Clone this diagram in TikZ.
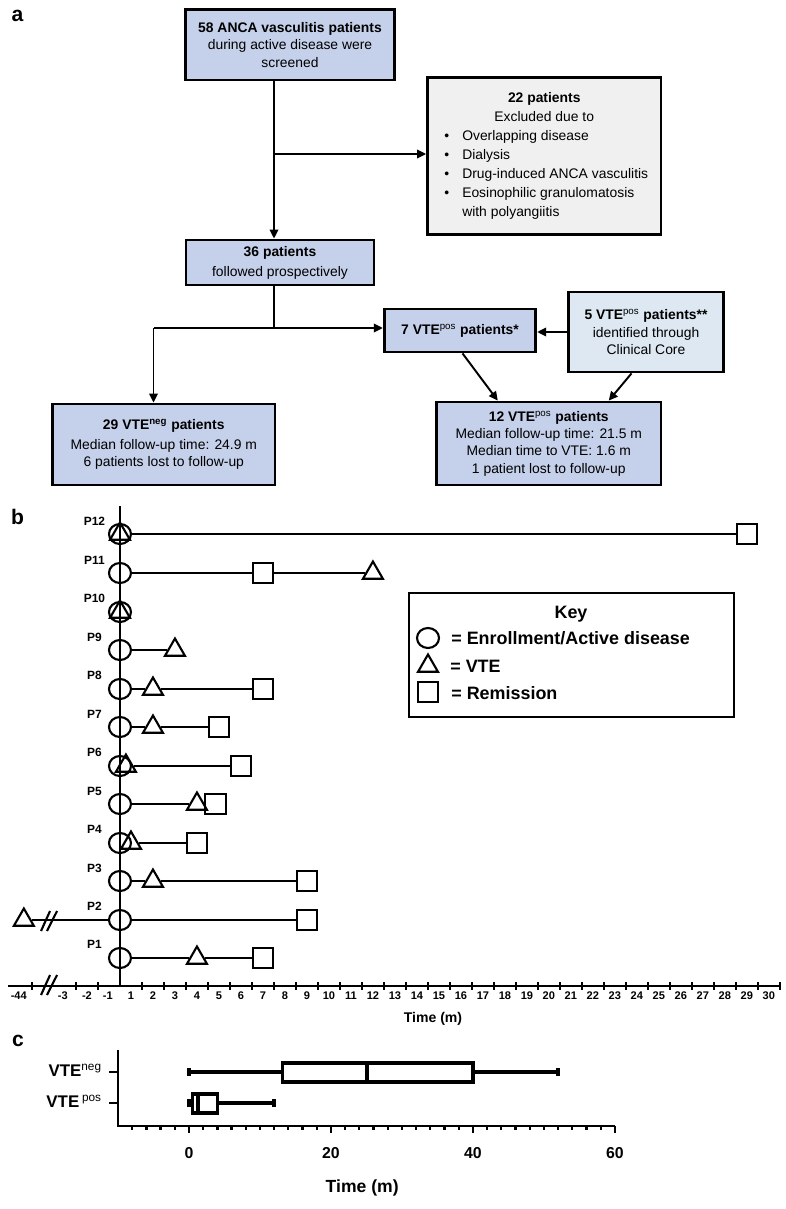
\documentclass[tikz,border=0pt]{standalone}
\usepackage{fontspec}
\setmainfont{Liberation Sans}
\usepackage{tikz}
\usetikzlibrary{arrows.meta,shapes.geometric}
\definecolor{boxblue}{RGB}{197,208,234}
\definecolor{boxgray}{RGB}{240,240,240}
\definecolor{corelight}{RGB}{221,232,242}

\begin{document}
\begin{tikzpicture}[x=0.02cm,y=-0.02cm,
  >={Triangle[length=1.8mm,width=1.7mm]},
  panel/.style={font=\fontsize{12}{14}\selectfont\bfseries},
  flowbox/.style={draw,line width=1.6pt,fill=boxblue,align=center,inner sep=0pt,font=\fontsize{7.9}{9.9}\selectfont},
  flowline/.style={line width=1.1pt},
  enrol/.style={draw,ellipse,line width=1.2pt,minimum width=0.44cm,minimum height=0.4cm,inner sep=0pt},
  vte/.style={draw,regular polygon,regular polygon sides=3,line width=1.2pt,minimum size=0.46cm,inner sep=0pt},
  remis/.style={draw,rectangle,line width=1.2pt,minimum size=0.41cm,inner sep=0pt},
  row/.style={line width=1pt},
  axis/.style={line width=0.9pt},
  rowlab/.style={font=\fontsize{6.8}{8}\selectfont\bfseries,inner sep=0pt},
  ticklab/.style={font=\fontsize{6.3}{7}\selectfont\bfseries,inner sep=0pt},
  keytext/.style={font=\fontsize{10.2}{12}\selectfont\bfseries,inner sep=0pt},
  caxis/.style={line width=1.3pt},
  boxp/.style={line width=2pt},
  clab/.style={font=\fontsize{9.6}{11}\selectfont\bfseries,inner sep=0pt}]
\useasboundingbox (0,0) rectangle (786,1209);

% 流程图
\node[panel] (la) at (17.5,16) {a};
\node[flowbox,minimum width=4.17cm,minimum height=1.41cm] (screen) at (290,44.7) {\textbf{58 ANCA vasculitis patients}\\during active disease were\\screened};
\node[flowbox,fill=boxgray,minimum width=4.67cm,minimum height=3.13cm] (excl) at (544.25,156) {%
\begin{minipage}{4.2cm}
\fontsize{7.9}{10.8}\selectfont
\centering\textbf{22 patients}\\Excluded due to\par
\raggedright
\makebox[0.46cm][l]{\hspace{0.1cm}\textbullet}Overlapping disease\\
\makebox[0.46cm][l]{\hspace{0.1cm}\textbullet}Dialysis\\
\makebox[0.46cm][l]{\hspace{0.1cm}\textbullet}Drug-induced ANCA vasculitis\\
\makebox[0.46cm][l]{\hspace{0.1cm}\textbullet}Eosinophilic granulomatosis\\
\hspace*{0.46cm}with polyangiitis
\end{minipage}};
\node[flowbox,minimum width=3.76cm,minimum height=0.9cm] (follow) at (280,262.5) {\textbf{36 patients}\\[1.5pt]followed prospectively};
\node[flowbox,minimum width=3.03cm,minimum height=0.86cm] (pos7) at (460,330.5) {\textbf{7 VTE\textsuperscript{\mdseries pos} patients*}};
\node[flowbox,fill=corelight,minimum width=3.11cm,minimum height=1.6cm] (core) at (646,332) {\textbf{5 VTE\textsuperscript{\mdseries pos} patients**}\\identified through\\Clinical Core};
\node[flowbox,minimum width=4.49cm,minimum height=1.66cm] (pos12) at (548.75,443.5) {\textbf{12 VTE\textsuperscript{\mdseries pos} patients}\\Median follow-up time: 21.5 m\\Median time to VTE: 1.6 m\\1 patient lost to follow-up};
\node[flowbox,minimum width=4.45cm,minimum height=1.62cm] (neg29) at (163.75,444.5) {\textbf{29 VTE\textsuperscript{neg} patients}\\[1pt]Median follow-up time: 24.9 m\\6 patients lost to follow-up};

% 连接线
\coordinate (split) at (274,154);
\coordinate (fork) at (274,328);
\coordinate (corner) at (153.5,328);
\draw[flowline,->] (split |- screen.south) -- (split |- follow.north);
\draw[flowline,->] (split) -- (split -| excl.west);
\draw[flowline] (fork |- follow.south) -- (fork);
\draw[flowline,->] (corner) -- (corner -| pos7.west);
\draw[flowline,->] (corner) -- (corner |- neg29.north);
\draw[flowline,->] (core.west) -- (core.west -| pos7.east);
\draw[flowline,->] ([xshift=0.05cm]pos7.south) -- ([xshift=-1.02cm]pos12.north);
\draw[flowline,->] ([xshift=-0.29cm]core.south) -- ([xshift=1.2cm]pos12.north);

% 时间轴
\node[panel] (lb) at (17.5,517) {b};
\begin{scope}[xshift=2.4cm,x=0.44cm]
\draw[axis] (0,506) -- (0,986);
\draw[axis] (-5.1,986) -- (30,986);
\foreach \t in {-4,-2,-1,1,2,...,30}
  \draw[axis] (\t,982) -- (\t,990);
\foreach \k in {1,...,30}
  \node[ticklab] (tk\k) at (\k-0.5,996) {\k};
\node[ticklab] (tkm1) at (-0.55,996) {-1};
\node[ticklab] (tkm2) at (-1.5,996) {-2};
\node[ticklab] (tkm3) at (-2.6,996) {-3};
\node[ticklab] (tkm44) at (-4.6,996) {-44};
\draw[axis,line width=1.2pt] (-3.59,995) -- (-3.18,975);
\draw[axis,line width=1.2pt] (-3.32,995) -- (-2.86,975);

% P12
\node[rowlab] (l12) at (-1.16,521) {P12};
\node[enrol] (c12) at (0,534) {};
\node[vte] (t12) at (0,534) {};
\node[remis] (s12) at (28.5,534) {};
\draw[row] (c12) -- (s12);
% P11
\node[rowlab] (l11) at (-1.16,560) {P11};
\node[enrol] (c11) at (0,573) {};
\node[remis] (s11) at (6.5,573) {};
\node[vte] (t11) at (11.5,573) {};
\draw[row] (c11) -- (s11) -- (t11);
% P10
\node[rowlab] (l10) at (-1.16,598) {P10};
\node[enrol] (c10) at (0,612) {};
\node[vte] (t10) at (0,612) {};
% P9
\node[rowlab] (l9) at (-1.16,637) {P9};
\node[enrol] (c9) at (0,650) {};
\node[vte] (t9) at (2.5,650) {};
\draw[row] (c9) -- (t9);
% P8
\node[rowlab] (l8) at (-1.16,675) {P8};
\node[enrol] (c8) at (0,689) {};
\node[vte] (t8) at (1.5,689) {};
\node[remis] (s8) at (6.5,689) {};
\draw[row] (c8) -- (t8) -- (s8);
% P7
\node[rowlab] (l7) at (-1.16,714) {P7};
\node[enrol] (c7) at (0,727) {};
\node[vte] (t7) at (1.5,727) {};
\node[remis] (s7) at (4.5,727) {};
\draw[row] (c7) -- (t7) -- (s7);
% P6
\node[rowlab] (l6) at (-1.16,752) {P6};
\node[enrol] (c6) at (0,766) {};
\node[vte] (t6) at (0.27,766) {};
\node[remis] (s6) at (5.5,766) {};
\draw[row] (t6) -- (s6);
% P5
\node[rowlab] (l5) at (-1.16,791) {P5};
\node[enrol] (c5) at (0,804) {};
\node[vte] (t5) at (3.5,804) {};
\node[remis] (s5) at (4.35,804) {};
\draw[row] (c5) -- (t5);
% P4
\node[rowlab] (l4) at (-1.16,829) {P4};
\node[enrol] (c4) at (0,843) {};
\node[vte] (t4) at (0.5,843) {};
\node[remis] (s4) at (3.5,843) {};
\draw[row] (t4) -- (s4);
% P3
\node[rowlab] (l3) at (-1.16,868) {P3};
\node[enrol] (c3) at (0,881) {};
\node[vte] (t3) at (1.5,881) {};
\node[remis] (s3) at (8.5,881) {};
\draw[row] (c3) -- (t3) -- (s3);
% P2
\node[rowlab] (l2) at (-1.16,906) {P2};
\node[enrol] (c2) at (0,920) {};
\node[vte] (t2) at (-4.37,920) {};
\node[remis] (s2) at (8.5,920) {};
\draw[row] (t2) -- (c2) -- (s2);
\draw[axis,line width=1.2pt] (-3.59,931) -- (-3.18,911);
\draw[axis,line width=1.2pt] (-3.32,931) -- (-2.86,911);
% P1
\node[rowlab] (l1) at (-1.16,944) {P1};
\node[enrol] (c1) at (0,958) {};
\node[vte] (t1) at (3.5,958) {};
\node[remis] (s1) at (6.5,958) {};
\draw[row] (c1) -- (t1) -- (s1);
\end{scope}
\node[font=\fontsize{8}{9}\selectfont\bfseries] (btime) at (433,1019) {Time (m)};

% 图例
\node[draw,line width=0.8pt,minimum width=6.5cm,minimum height=2.48cm] (key) at (571.5,655) {};
\node[keytext] (keyt) at (571,614) {Key};
\node[enrol] (kc) at (428,638) {};
\node[vte] (kt) at (428,666) {};
\node[remis] (ks) at (428,692) {};
\node[keytext,anchor=west] (kenrol) at (451,638) {= Enrollment/Active disease};
\node[keytext,anchor=west] (kvte) at (450,666) {= VTE};
\node[keytext,anchor=west] (kremis) at (451,693) {= Remission};

% 箱线图
\node[panel] (lc) at (18,1041) {c};
\begin{scope}[xshift=3.78cm,x=0.142cm]
\draw[caxis] (-10,1050) -- (-10,1126) -- (60,1126);
\foreach \t in {-8,-6,...,60}
  \draw[caxis] (\t,1126) -- (\t,1130);
\foreach \t in {0,20,40,60} {
  \draw[caxis] (\t,1126) -- (\t,1133);
  \node[clab,font=\fontsize{9}{10}\selectfont\bfseries] (cx\t) at (\t,1153) {\t};
}
\draw[caxis] (-10,1072) -- (-11.2,1072);
\draw[caxis] (-10,1103) -- (-11.2,1103);
\node[clab,anchor=east] (cneg) at (-12.2,1070) {VTE\textsuperscript{\mdseries neg}};
\node[clab,anchor=east] (cpos) at (-12.2,1101) {VTE\,\textsuperscript{\mdseries pos}};
% VTE neg
\draw[boxp] (0,1068) -- (0,1076);
\draw[boxp] (0,1072) -- (13.2,1072);
\draw[boxp] (13.2,1063) rectangle (40,1082);
\draw[boxp] (25.1,1063) -- (25.1,1082);
\draw[boxp] (40,1072) -- (52,1072);
\draw[boxp] (52,1068) -- (52,1076);
% VTE pos
\draw[boxp] (0,1099) -- (0,1107);
\draw[boxp] (0.5,1094) rectangle (4,1113);
\draw[boxp] (1.3,1094) -- (1.3,1113);
\draw[boxp] (4,1103) -- (12,1103);
\draw[boxp] (12,1099) -- (12,1107);
\node[clab,font=\fontsize{10}{12}\selectfont\bfseries] (ctime) at (24.4,1188) {Time (m)};
\end{scope}
\end{tikzpicture}
\end{document}
